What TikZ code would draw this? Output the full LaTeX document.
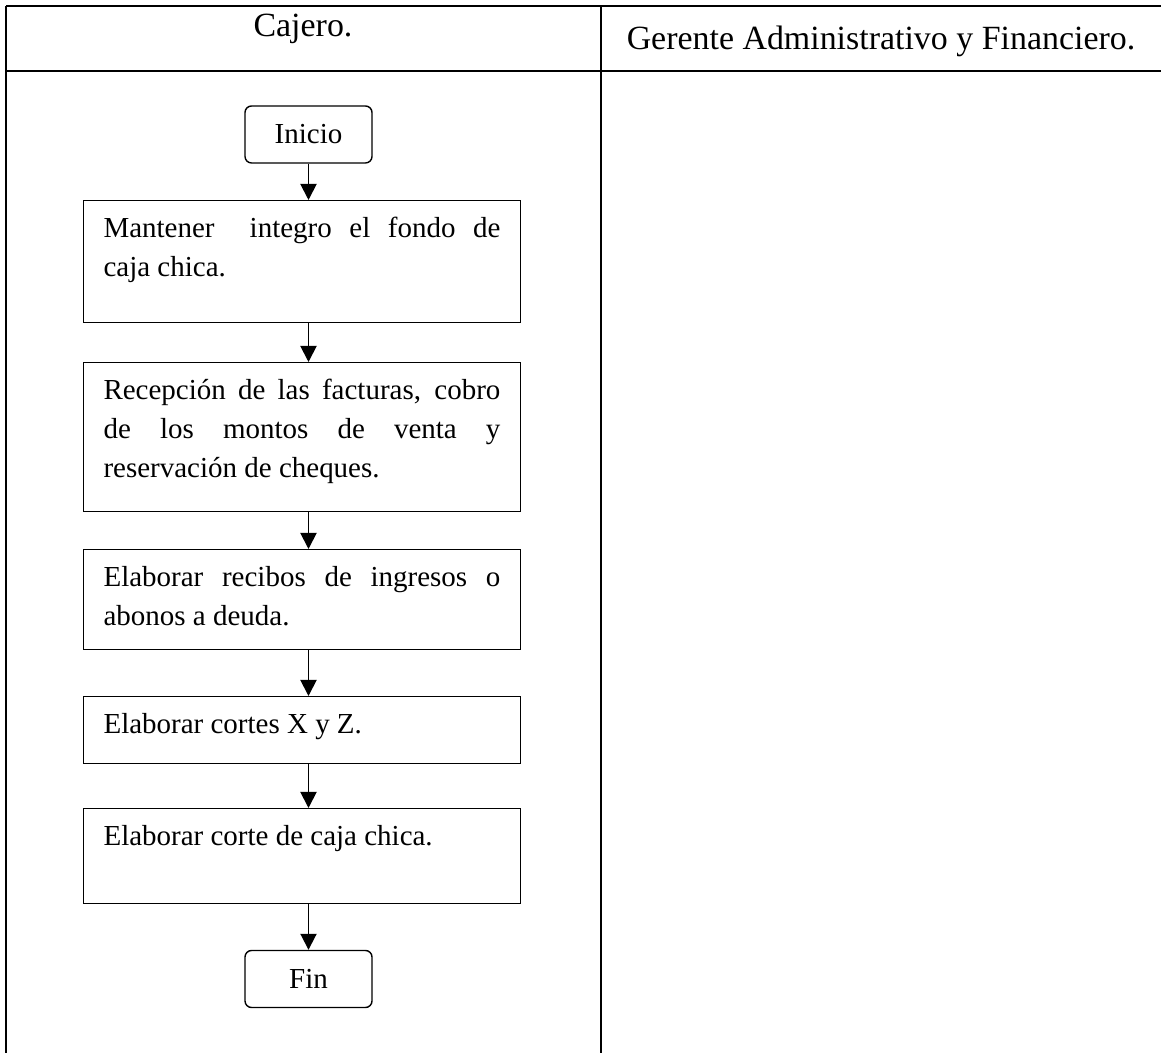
\documentclass[tikz,border=0pt]{standalone}
\usepackage{fontspec}
\setmainfont{Liberation Serif}
\usepackage{tikz}
\usetikzlibrary{arrows.meta}

% text of a step box, kept at the top of a box of fixed height
\newcommand{\caja}[2]{\parbox[c][#1][t]{7.94cm}{\rule{0pt}{0.73cm}#2}}

\tikzset{
    tabla/.style={line width=1.1pt},
    cab/.style={font=\fontsize{19.3}{23}\selectfont},
    term/.style={draw, line width=0.8pt, rounded corners=0.13cm,
        minimum width=2.54cm, minimum height=1.14cm, inner sep=0pt,
        font=\fontsize{16.5}{22.2}\selectfont},
    paso/.style={draw, line width=0.8pt, anchor=north,
        inner xsep=0.4cm, inner ysep=0pt,
        font=\fontsize{16.5}{22.2}\selectfont},
    flecha/.style={line width=1.1pt, -{Triangle[length=0.32cm,width=0.32cm]}}
}

\begin{document}
\begin{tikzpicture}[x=0.02cm,y=-0.02cm]
    \useasboundingbox (0,0) rectangle (1161,1053);

    % Table:
    % two columns, the header row on top
    \draw[tabla] (6,6) -- (1161,6);
    \draw[tabla] (6,71) -- (1161,71);
    \draw[tabla] (6,6) -- (6,1053);
    \draw[tabla] (601,6) -- (601,1053);

    \node[cab] (cajero) at (303,29) {Cajero.};
    \node[cab] (gerente) at (881,41) {Gerente Administrativo y Financiero.};

    % Steps:
    \node[term] (ini) at (308.5,134.5) {Inicio};
    \node[paso] (b1) at (302,200) {\caja{2.44cm}{Mantener\ \ integro el fondo de\linebreak caja chica.}};
    \node[paso] (b2) at (302,362) {\caja{2.98cm}{Recepción de las facturas, cobro\linebreak de los montos de venta y\linebreak reservación de cheques.}};
    \node[paso] (b3) at (302,549) {\caja{2.0cm}{Elaborar recibos de ingresos o\linebreak abonos a deuda.}};
    \node[paso] (b4) at (302,696) {\caja{1.34cm}{Elaborar cortes X y Z.}};
    \node[paso] (b5) at (302,808) {\caja{1.9cm}{Elaborar corte de caja chica.}};
    \node[term] (fin) at (308.5,979) {Fin};

    % Arrows:
    \draw[flecha] (ini.south) -- (ini.south |- b1.north);
    \foreach \a/\b in {b1/b2, b2/b3, b3/b4, b4/b5}
        \draw[flecha] (\a.south -| ini) -- (\b.north -| ini);
    \draw[flecha] (b5.south -| fin) -- (fin.north);
\end{tikzpicture}
\end{document}
